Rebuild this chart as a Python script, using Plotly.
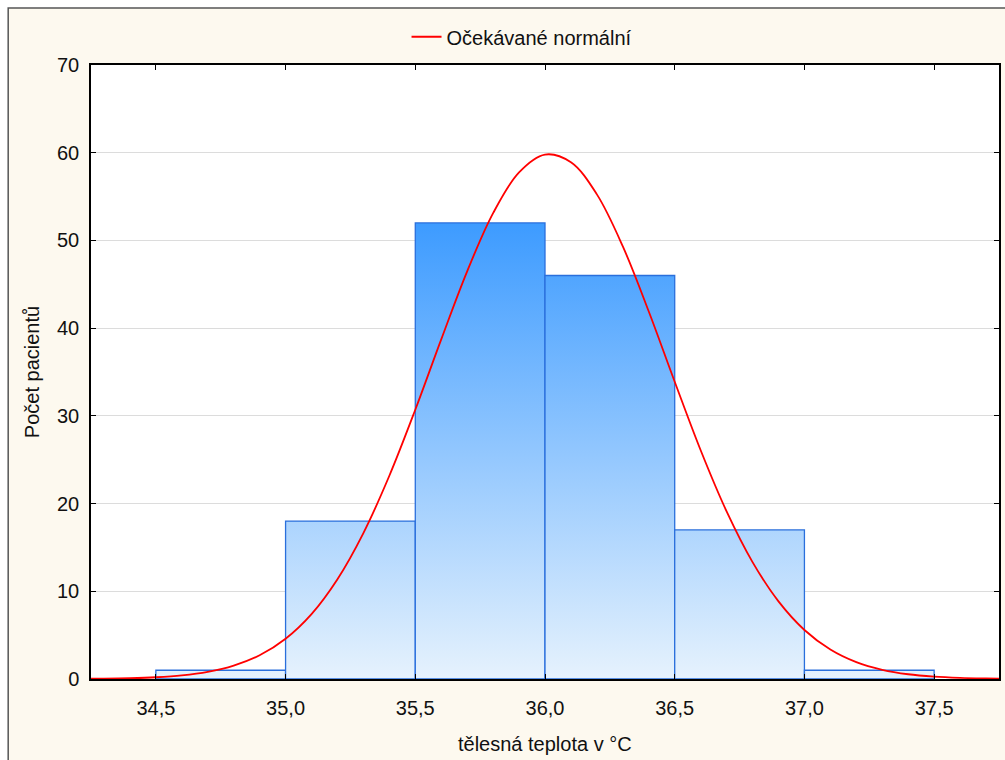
import plotly.graph_objects as go

# ---- data ----
bin_edges = [34.5, 35.0, 35.5, 36.0, 36.5, 37.0, 37.5]
counts = [1, 18, 52, 46, 17, 1]

curve_x = [34.2, 34.3, 34.4, 34.5, 34.6, 34.7, 34.8, 34.9, 35.0, 35.1, 35.2, 35.3,
           35.4, 35.5, 35.6, 35.7, 35.8, 35.9, 36.0, 36.1, 36.2, 36.3, 36.4, 36.5,
           36.6, 36.7, 36.8, 36.9, 37.0, 37.1, 37.2, 37.3, 37.4, 37.5, 37.6, 37.7, 37.8]
curve_y = [0.02, 0.04, 0.09, 0.20, 0.41, 0.81, 1.52, 2.70, 4.59, 7.40, 11.38, 16.64,
           23.17, 30.70, 38.72, 46.48, 53.11, 57.76, 59.79, 58.91, 55.25, 49.32, 41.90, 33.89,
           26.08, 19.11, 13.33, 8.85, 5.59, 3.36, 1.92, 1.05, 0.54, 0.27, 0.13, 0.06, 0.02]

x_ticks = [34.5, 35.0, 35.5, 36.0, 36.5, 37.0, 37.5]
y_ticks = [0, 10, 20, 30, 40, 50, 60, 70]

legend_name = "Očekávané normální"
x_title = "tělesná teplota v °C"
y_title = "Počet pacientů"

FONT = "Liberation Sans, Arial, sans-serif"
fig = go.Figure()

# histogram bars as gradient-filled polygons
for i, c in enumerate(counts):
    x0, x1 = bin_edges[i], bin_edges[i + 1]
    fig.add_trace(go.Scatter(
        x=[x0, x0, x1, x1, x0], y=[0, c, c, 0, 0],
        mode="lines", fill="toself",
        line=dict(color="#2a6fdc", width=1.3),
        fillgradient=dict(type="vertical", start=0, stop=52,
                          colorscale=[[0, "#e6f2fd"], [1, "#3d9bff"]]),
        showlegend=False, hoverinfo="skip",
    ))

fig.add_trace(go.Scatter(
    x=curve_x, y=curve_y, mode="lines",
    line=dict(color="#ff0000", width=1.8, shape="spline", smoothing=1.0),
    name=legend_name, showlegend=True,
))

fig.update_layout(
    width=1005, height=760,
    margin=dict(l=91, r=4, t=65, b=81),
    paper_bgcolor="white", plot_bgcolor="white",
    separators=", ",
    font=dict(family=FONT, size=20, color="#111111"),
    legend=dict(orientation="h", x=0.3475, xanchor="left", y=1.046, yanchor="middle",
                bgcolor="rgba(0,0,0,0)", font=dict(size=20)),
    shapes=[
        dict(type="rect", xref="paper", yref="paper", x0=-0.0912, x1=1.02, y0=-0.16, y1=1.0928,
             fillcolor="#fdf9ef", line=dict(color="#555555", width=1.5), layer="below"),
        dict(type="rect", xref="paper", yref="paper", x0=0, x1=1, y0=0, y1=1,
             fillcolor="white", line=dict(width=0), layer="below"),
    ],
    annotations=[
        dict(text=x_title, xref="paper", yref="paper", x=0.5, y=-0.106, showarrow=False,
             xanchor="center", yanchor="middle", font=dict(size=20)),
        dict(text=y_title, xref="paper", yref="paper", x=-0.0648, y=0.5, showarrow=False,
             textangle=-90, xanchor="center", yanchor="middle", font=dict(size=20)),
    ],
)

fig.update_xaxes(range=[34.25, 37.75], tickvals=x_ticks, tickformat=".1f",
                 showgrid=False, zeroline=False,
                 showline=True, linecolor="black", linewidth=1.5, mirror="ticks",
                 ticks="inside", ticklen=5, tickcolor="black", ticklabelstandoff=10)
fig.update_yaxes(range=[0, 70], tickvals=y_ticks,
                 showgrid=True, gridcolor="#dcdcdc", gridwidth=1, zeroline=False,
                 showline=True, linecolor="black", linewidth=1.5, mirror="ticks",
                 ticks="inside", ticklen=5, tickcolor="black", ticklabelstandoff=6)

fig.write_html("out.html")
